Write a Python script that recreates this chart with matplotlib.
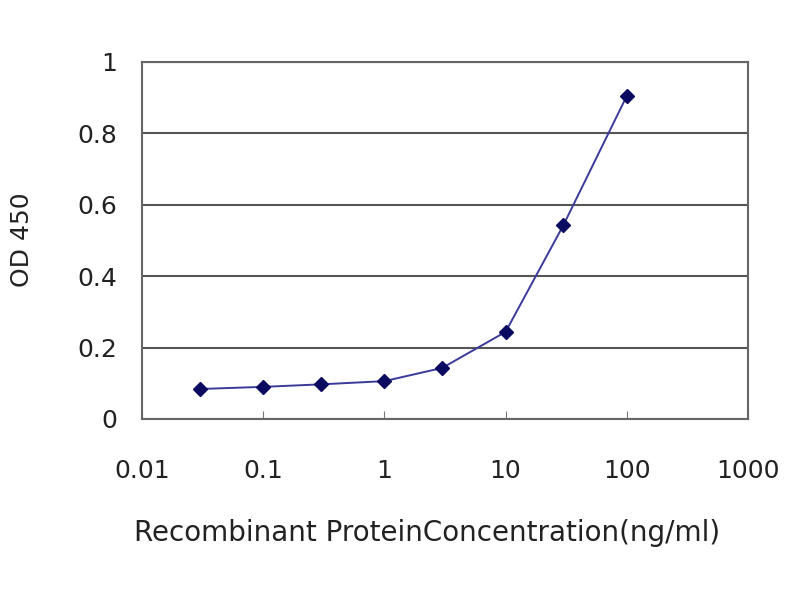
import matplotlib
matplotlib.use("Agg")
import matplotlib.pyplot as plt
import numpy as np

# Concentration (ng/ml) vs OD 450
conc = [0.03, 0.1, 0.3, 1, 3, 10, 30, 100]
od450 = [0.084, 0.090, 0.097, 0.106, 0.143, 0.244, 0.543, 0.905]

xticks = [0.01, 0.1, 1, 10, 100, 1000]
xtick_labels = ["0.01", "0.1", "1", "10", "100", "1000"]
yticks = [0, 0.2, 0.4, 0.6, 0.8, 1]
ytick_labels = ["0", "0.2", "0.4", "0.6", "0.8", "1"]

plt.rcParams['font.family'] = ['DejaVu Sans']

fig = plt.figure(figsize=(8, 6), dpi=100)
ax = fig.add_axes([0.1775, 0.3017, 0.7575, 0.595])

ax.plot(conc, od450, color='#3a3a9a', linewidth=1.4, marker='D', markersize=7,
        markerfacecolor='#0a0a60', markeredgecolor='#0a0a60', zorder=3)

ax.set_xscale('log')
ax.set_xlim(0.01, 1000)
ax.set_ylim(0, 1)
ax.set_xticks(xticks)
ax.set_xticklabels(xtick_labels)
ax.minorticks_off()
ax.set_yticks(yticks)
ax.set_yticklabels(ytick_labels)

ax.grid(axis='y', color='#555555', linewidth=1.5)
ax.set_axisbelow(True)
for s in ax.spines.values():
    s.set_color('#666666')
    s.set_linewidth(1.5)

ax.tick_params(axis='x', direction='in', length=6, color='#777777', labelsize=18,
               pad=29, labelcolor='#222222')
ax.tick_params(axis='y', direction='out', length=0, labelsize=18, pad=18,
               labelcolor='#222222')

# axis titles placed in figure coords
fig.text(427 / 800, 1 - 533 / 600, "Recombinant ProteinConcentration(ng/ml)",
         fontsize=20, ha='center', va='center', color='#222222')
fig.text(22 / 800, 1 - 240 / 600, "OD 450", fontsize=18, rotation=90,
         ha='center', va='center', color='#222222')

fig.savefig("out.png", dpi=100)
